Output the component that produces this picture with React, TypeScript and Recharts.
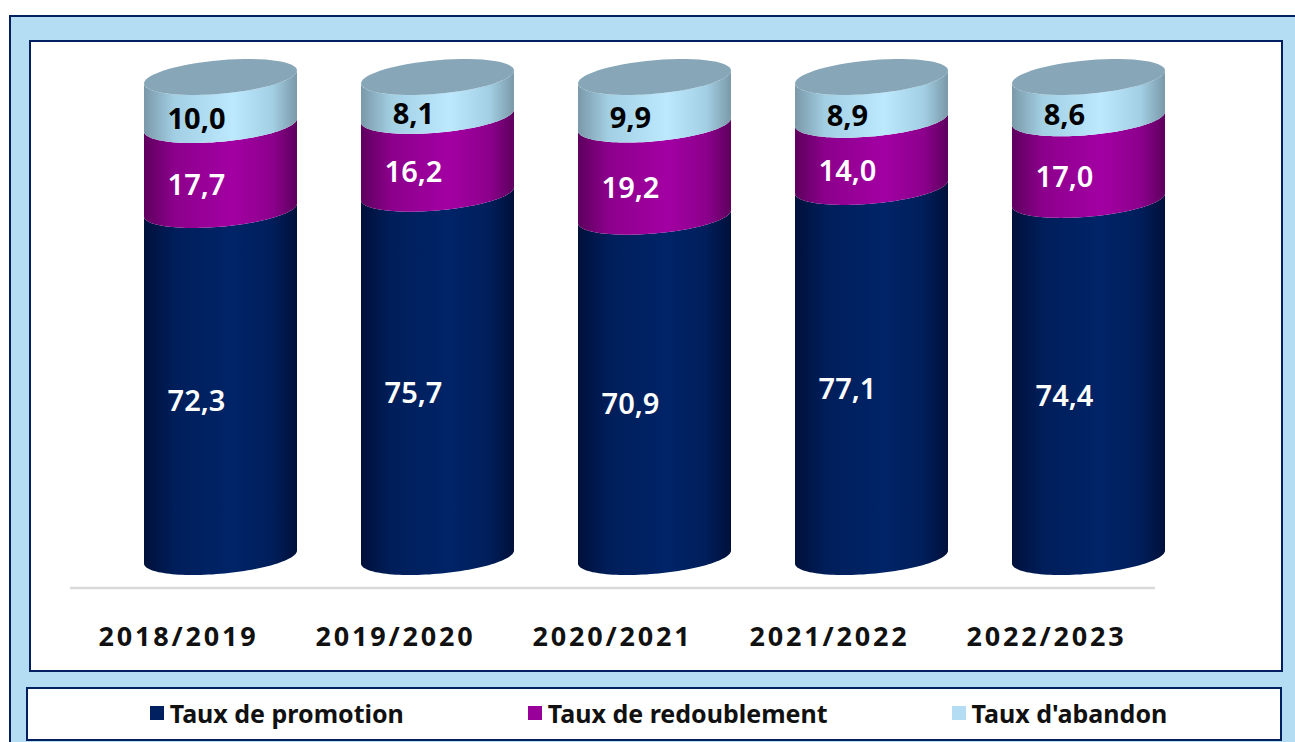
import { BarChart, Bar, XAxis, YAxis, Legend, LabelList } from 'recharts'

const years = ['2018/2019', '2019/2020', '2020/2021', '2021/2022', '2022/2023']
const promotion = [72.3, 75.7, 70.9, 77.1, 74.4]
const redoublement = [17.7, 16.2, 19.2, 14.0, 17.0]
const abandon = [10.0, 8.1, 9.9, 8.9, 8.6]

const legendColors: Record<string, string> = {
  promotion: '#002060',
  redoublement: '#990099',
  abandon: '#B4DDF3',
}

const data = years.map((year, i) => ({
  year,
  promotion: promotion[i],
  redoublement: redoublement[i],
  abandon: abandon[i],
}))

const FONT = '"Noto Sans", sans-serif'

// the 3D bars sit up and to the right of their axis slot
const SHIFT_X = 42
const SHIFT_Y = -31
const ELLIPSE_B = 16.8
const ELLIPSE_TILT = 6.5

function arc(cx: number, cy: number, a: number, from: number, to: number) {
  const pts: string[] = []
  for (let i = 0; i <= 60; i++) {
    const t = from + ((to - from) * i) / 60
    pts.push(`${(cx + a * Math.cos(t)).toFixed(2)},${(cy - ELLIPSE_TILT * Math.cos(t) + ELLIPSE_B * Math.sin(t)).toFixed(2)}`)
  }
  return pts
}

function Cylinder(props: any) {
  const { x, y, width, height, fill, hasTop } = props
  const a = width / 2
  const cx = x + a + SHIFT_X
  const top = y + SHIFT_Y
  const bottom = y + height + SHIFT_Y
  const wall = [...arc(cx, bottom, a, Math.PI, 0), ...arc(cx, top, a, 0, Math.PI)]
  return (
    <g>
      <path d={`M${wall.join('L')}Z`} fill={fill} />
      {hasTop && <path d={`M${arc(cx, top, a, 0, Math.PI * 2).join('L')}Z`} fill="#87A7B8" />}
    </g>
  )
}

function valueLabel(color: string) {
  return (props: any) => {
    const { x, y, width, height, value } = props
    return (
      <text
        x={x + width / 2 + 18}
        y={y + height / 2 - 15}
        textAnchor="middle"
        dominantBaseline="central"
        fill={color}
        fontFamily={FONT}
        fontSize={29}
        fontWeight={color === '#000000' ? 700 : 600}
      >
        {Number(value).toFixed(1).replace('.', ',')}
      </text>
    )
  }
}

function LegendBox({ payload }: any) {
  return (
    <div style={{ display: 'flex', justifyContent: 'center', alignItems: 'center', gap: 124, height: '100%', paddingLeft: 9, paddingBottom: 2, boxSizing: 'border-box' }}>
      {(payload || []).map((item: any) => (
        <div key={item.value} style={{ display: 'flex', alignItems: 'center', gap: 6 }}>
          <span style={{ width: 14, height: 14, background: legendColors[item.dataKey], display: 'inline-block' }} />
          <span style={{ fontFamily: FONT, fontWeight: 700, fontSize: 25, color: '#111111', lineHeight: 1 }}>{item.value}</span>
        </div>
      ))}
    </div>
  )
}

function gradient(id: string, edge: string, mid: string, center: string) {
  return (
    <linearGradient id={id} x1="0" y1="0" x2="1" y2="0">
      <stop offset="0" stopColor={edge} />
      <stop offset="0.2" stopColor={mid} />
      <stop offset="0.58" stopColor={center} />
      <stop offset="0.84" stopColor={mid} />
      <stop offset="1" stopColor={edge} />
    </linearGradient>
  )
}

export default function App() {
  return (
    <div style={{ position: 'absolute', left: 0, top: 0, width: 1295, height: 742, overflow: 'hidden', background: '#ffffff' }}>
      <div style={{ position: 'absolute', left: 9, top: 15, width: 1286, height: 727, background: '#B4DDF3', borderTop: '2px solid #002060', borderLeft: '2px solid #002060', boxSizing: 'border-box' }} />
      <div style={{ position: 'absolute', left: 29, top: 40, width: 1254, height: 632, background: '#ffffff', border: '2px solid #002060', boxSizing: 'border-box' }} />
      <div style={{ position: 'absolute', left: 0, top: 0 }}>
        <BarChart width={1295} height={742} data={data} margin={{ top: 108, right: 140, bottom: 40, left: 70 }}>
          <defs>
            {gradient('navy', '#00103A', '#001E5A', '#002468')}
            {gradient('purple', '#5E005E', '#8C008C', '#A300A3')}
            {gradient('sky', '#7A99A9', '#A3CFE4', '#BDE9FF')}
          </defs>
          <XAxis
            dataKey="year"
            height={60}
            interval={0}
            tickLine={false}
            tickSize={0}
            tickMargin={39}
            axisLine={{ stroke: '#D9D9D9', strokeWidth: 2.5 }}
            tick={{ fontFamily: FONT, fontWeight: 700, fontSize: 27, letterSpacing: 2.8, fill: '#111111' }}
          />
          <YAxis hide domain={[0, 100]} />
          <Legend
            content={<LegendBox />}
            itemSorter={null}
            wrapperStyle={{ left: 26, top: 687, bottom: 'auto', width: 1256, height: 54, background: '#ffffff', border: '2px solid #002060', boxSizing: 'border-box' }}
          />
          <Bar
            dataKey="promotion"
            name="Taux de promotion"
            stackId="a"
            barSize={153}
            fill="url(#navy)"
            isAnimationActive={false}
            legendType="square"
            shape={(p: any) => <Cylinder {...p} />}
          >
            <LabelList dataKey="promotion" content={valueLabel('#ffffff')} />
          </Bar>
          <Bar
            dataKey="redoublement"
            name="Taux de redoublement"
            stackId="a"
            barSize={153}
            fill="url(#purple)"
            isAnimationActive={false}
            legendType="square"
            shape={(p: any) => <Cylinder {...p} />}
          >
            <LabelList dataKey="redoublement" content={valueLabel('#ffffff')} />
          </Bar>
          <Bar
            dataKey="abandon"
            name="Taux d'abandon"
            stackId="a"
            barSize={153}
            fill="url(#sky)"
            isAnimationActive={false}
            legendType="square"
            shape={(p: any) => <Cylinder {...p} hasTop />}
          >
            <LabelList dataKey="abandon" content={valueLabel('#000000')} />
          </Bar>
        </BarChart>
      </div>
    </div>
  )
}
